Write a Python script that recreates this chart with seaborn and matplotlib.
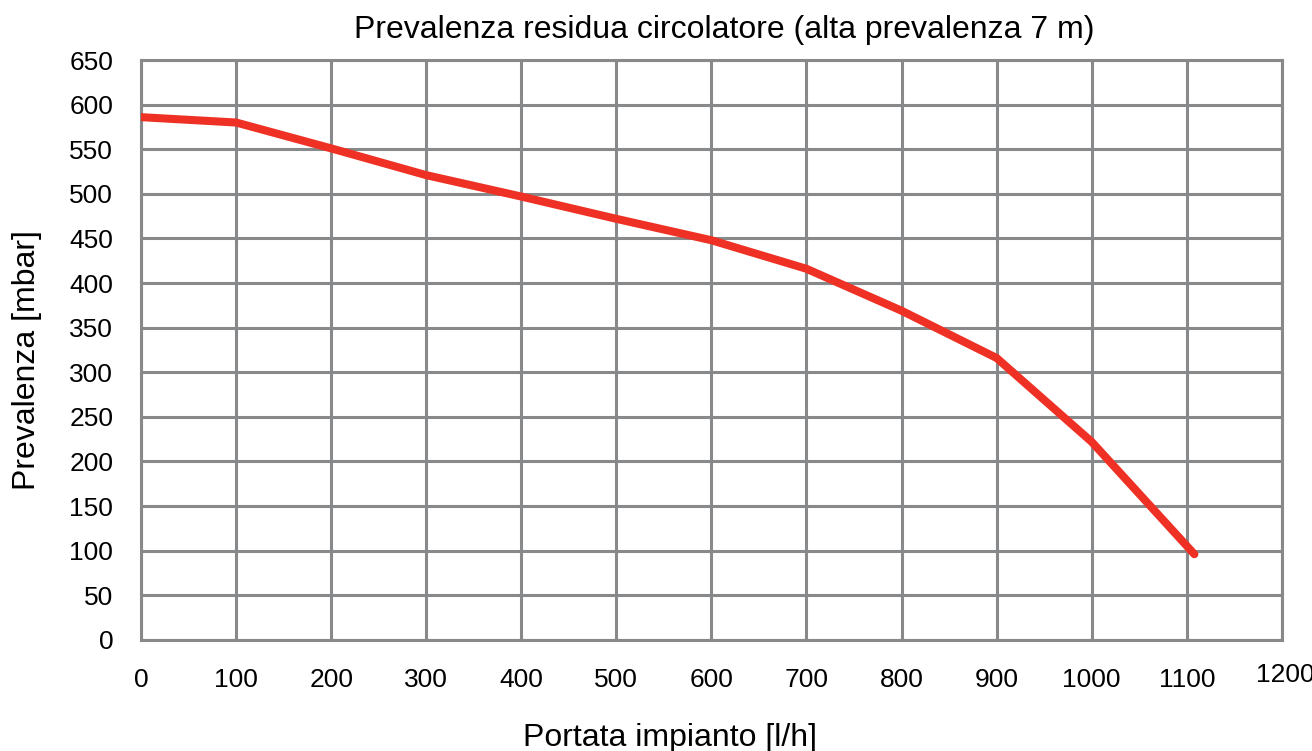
import pandas as pd
import seaborn as sns
import matplotlib.pyplot as plt
import matplotlib.transforms as mtransforms

# values
portata = [0, 100, 200, 300, 400, 500, 600, 700, 800, 900, 1000, 1108]
prevalenza = [586, 580, 551, 521, 497, 472, 448, 416, 369, 316, 222, 96]
x_ticks = [0, 100, 200, 300, 400, 500, 600, 700, 800, 900, 1000, 1100, 1200]
y_ticks = [0, 50, 100, 150, 200, 250, 300, 350, 400, 450, 500, 550, 600, 650]


def main():
    df = pd.DataFrame({"portata": portata, "prevalenza": prevalenza})

    sns.set_style("white")
    plt.rcParams["font.family"] = ["Liberation Sans", "DejaVu Sans"]
    plt.rcParams["text.color"] = "black"
    plt.rcParams["axes.labelcolor"] = "black"
    plt.rcParams["xtick.color"] = "black"
    plt.rcParams["ytick.color"] = "black"

    grid_col = "#88898b"
    fig = plt.figure(figsize=(13.12, 7.51), dpi=100)
    ax = fig.add_axes([0.1075, 0.148, 0.8695, 0.772])

    sns.lineplot(data=df, x="portata", y="prevalenza", ax=ax,
                 color="#ee3124", linewidth=5.8, solid_capstyle="round", zorder=3)

    ax.set_xlim(0, 1200)
    ax.set_ylim(0, 650)
    ax.set_xticks(x_ticks)
    ax.set_yticks(y_ticks)
    ax.grid(True, color=grid_col, linewidth=2.2)
    ax.set_axisbelow(True)
    for s in ax.spines.values():
        s.set_color(grid_col)
        s.set_linewidth(2.2)
    ax.tick_params(axis="both", length=0, labelsize=19)
    ax.tick_params(axis="x", pad=20)
    ax.tick_params(axis="y", pad=20)

    # last x label sits a little higher and to the right in the original
    last = ax.get_xticklabels()[-1]
    shift = mtransforms.ScaledTranslation(3 / 100, 5 / 100, fig.dpi_scale_trans)
    last.set_transform(last.get_transform() + shift)

    # axis titles are not centred on the plot area in the original
    ax.set_xlabel("Portata impianto [l/h]", fontsize=23, va="center")
    ax.xaxis.set_label_coords(0.4636, -0.169)
    ax.set_ylabel("Prevalenza [mbar]", fontsize=23, va="center")
    ax.yaxis.set_label_coords(-0.1, 0.483)
    ax.set_title("Prevalenza residua circolatore (alta prevalenza 7 m)",
                 fontsize=23, x=0.511, y=1.052, va="center", pad=0)

    fig.savefig("out.png", dpi=100)
    plt.close(fig)


if __name__ == "__main__":
    main()
